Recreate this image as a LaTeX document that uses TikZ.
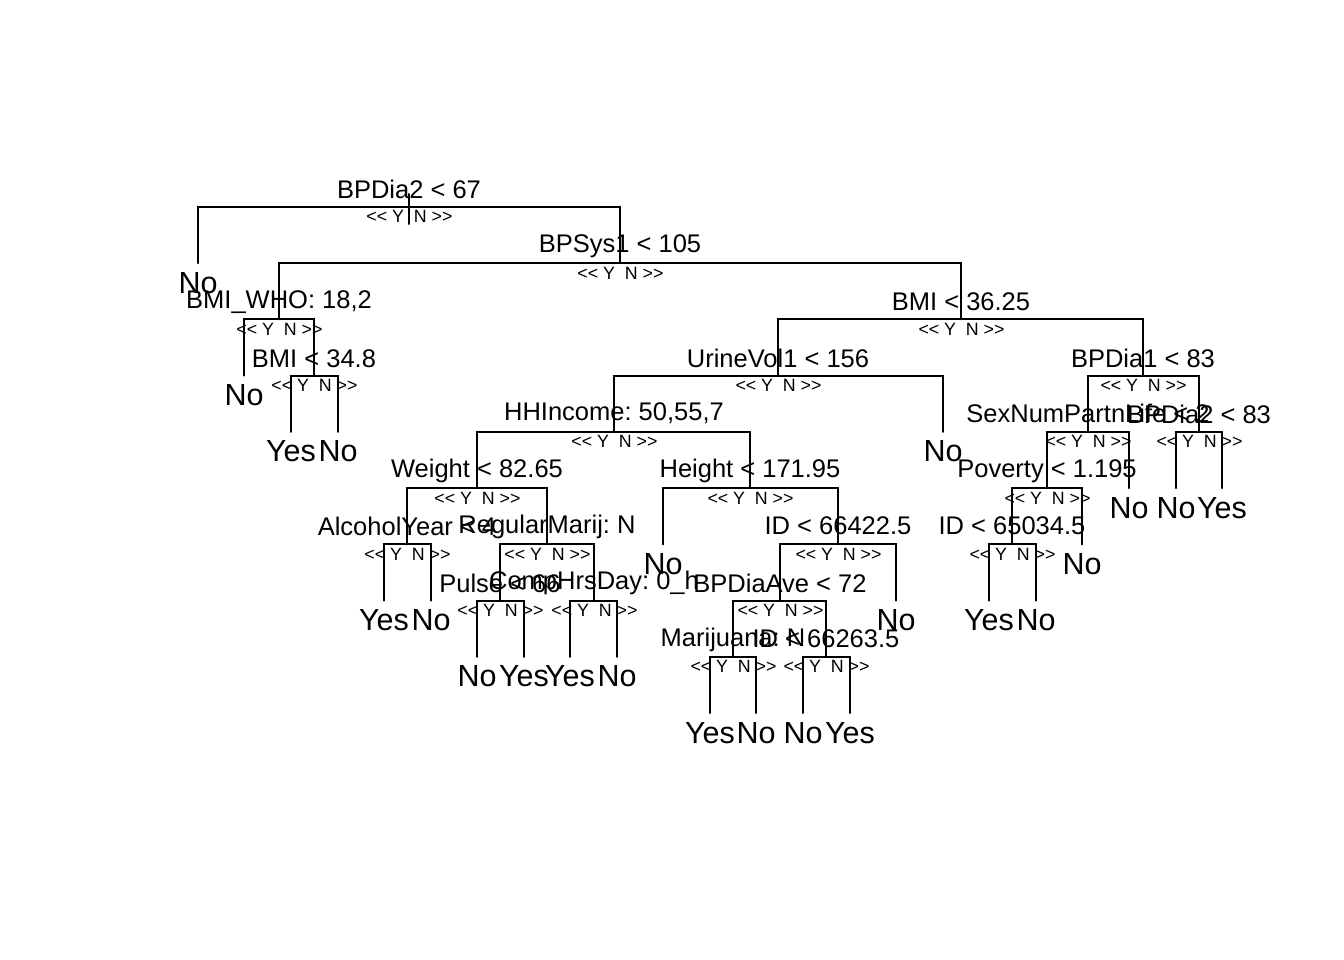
\documentclass[tikz,border=0pt]{standalone}
\usepackage{fontspec}
\setmainfont{Liberation Sans}
\frenchspacing
\newcommand\fsplitf{\fontsize{25.5pt}{30pt}\selectfont\frenchspacing}
\newcommand\fleaff{\fontsize{30.5pt}{36pt}\selectfont}
\newcommand\fsmallf{\fontsize{17.8pt}{21pt}\selectfont}
% name, x, y, baseline offset, text
\newcommand\splitnd[5]{%
  \coordinate (#1) at (#2,#3);
  \node[splitlab] (#1t) at (#2,#3-#4) {#5};
  \node[ylab] (#1y) at (#2-4.7,#3+16) {<\kern0pt< Y};
  \node[nlab] (#1n) at (#2+4.7,#3+16) {N >\kern0pt>};
}
\newcommand\leafnd[4]{%
  \coordinate (#1) at (#2,#3);
  \node[leaflab] (#1t) at (#2,#3+30) {#4};
}
\begin{document}
\begin{tikzpicture}[x=1pt,y=-1pt,
  branch/.style={line width=2pt, line cap=round, line join=miter, draw=black},
  splitlab/.style={font=\fsplitf, anchor=base, inner sep=0pt, text=black},
  leaflab/.style={font=\fleaff, anchor=base, inner sep=0pt, text=black},
  ylab/.style={font=\fsmallf, anchor=base east, inner sep=0pt, text=black},
  nlab/.style={font=\fsmallf, anchor=base west, inner sep=0pt, text=black}]
\fill[white] (0,0) rectangle (1344,960);
\useasboundingbox (0,0) rectangle (1344,960);

\def\La{207}\def\Lb{263.2}\def\Lc{319.4}\def\Ld{375.7}\def\Le{431.9}
\def\Lf{488.1}\def\Lg{544.3}\def\Lh{600.6}\def\Li{656.8}\def\Lj{713}

% split nodes
\splitnd{n1}{409}{\La}{8.5}{BPDia2 < 67}
\splitnd{n3}{620}{\Lb}{11}{BPSys1 < 105}
\splitnd{n6}{279}{\Lc}{11}{BMI\_WHO: 18,2}
\splitnd{n13}{314}{\Ld}{8.5}{BMI < 34.8}
\splitnd{n7}{961}{\Lc}{8.5}{BMI < 36.25}
\splitnd{n14}{778}{\Ld}{8.5}{UrineVol1 < 156}
\splitnd{n28}{614}{\Le}{11}{HHIncome: 50,55,7}
\splitnd{n56}{477}{\Lf}{10.5}{Weight < 82.65}
\splitnd{n112}{407}{\Lg}{8.5}{AlcoholYear < 4}
\splitnd{n113}{547}{\Lg}{11}{RegularMarij: N}
\splitnd{n226}{500}{\Lh}{8}{Pulse < 66}
\splitnd{n227}{594}{\Lh}{11}{CompHrsDay: 0\_h}
\splitnd{n57}{750}{\Lf}{11}{Height < 171.95}
\splitnd{n115}{838}{\Lg}{9.5}{ID < 66422.5}
\splitnd{n230}{780}{\Lh}{8.5}{BPDiaAve < 72}
\splitnd{n460}{733}{\Li}{10.5}{Marijuana: N}
\splitnd{n461}{826}{\Li}{9.5}{ID < 66263.5}
\splitnd{n15}{1143}{\Ld}{8.5}{BPDia1 < 83}
\splitnd{n30}{1088}{\Le}{9}{SexNumPartnLife < 2}
\splitnd{n31}{1199}{\Le}{8.5}{BPDia2 < 83}
\splitnd{n60}{1047}{\Lf}{11}{Poverty < 1.195}
\splitnd{n120}{1012}{\Lg}{9.5}{ID < 65034.5}

% leaves
\leafnd{n2}{198}{\Lb}{No}
\leafnd{n12}{244}{\Ld}{No}
\leafnd{n26}{291}{\Le}{Yes}
\leafnd{n27}{338}{\Le}{No}
\leafnd{n29}{943}{\Le}{No}
\leafnd{n224}{384}{\Lh}{Yes}
\leafnd{n225}{431}{\Lh}{No}
\leafnd{n452}{477}{\Li}{No}
\leafnd{n453}{524}{\Li}{Yes}
\leafnd{n454}{570}{\Li}{Yes}
\leafnd{n455}{617}{\Li}{No}
\leafnd{n114}{663}{\Lg}{No}
\leafnd{n231}{896}{\Lh}{No}
\leafnd{n920}{710}{\Lj}{Yes}
\leafnd{n921}{756}{\Lj}{No}
\leafnd{n922}{803}{\Lj}{No}
\leafnd{n923}{850}{\Lj}{Yes}
\leafnd{n61}{1129}{\Lf}{No}
\leafnd{n121}{1082}{\Lg}{No}
\leafnd{n240}{989}{\Lh}{Yes}
\leafnd{n241}{1036}{\Lh}{No}
\leafnd{n62}{1176}{\Lf}{No}
\leafnd{n63}{1222}{\Lf}{Yes}

% root stub
\coordinate (rs1) at (409,194);
\coordinate (rs2) at (409,224);
\draw[branch] (rs1) -- (rs2);

% branches
\draw[branch] (n2) |- (n1) -| (n3);
\draw[branch] (n6) |- (n3) -| (n7);
\draw[branch] (n12) |- (n6) -| (n13);
\draw[branch] (n26) |- (n13) -| (n27);
\draw[branch] (n14) |- (n7) -| (n15);
\draw[branch] (n28) |- (n14) -| (n29);
\draw[branch] (n56) |- (n28) -| (n57);
\draw[branch] (n112) |- (n56) -| (n113);
\draw[branch] (n224) |- (n112) -| (n225);
\draw[branch] (n226) |- (n113) -| (n227);
\draw[branch] (n452) |- (n226) -| (n453);
\draw[branch] (n454) |- (n227) -| (n455);
\draw[branch] (n114) |- (n57) -| (n115);
\draw[branch] (n230) |- (n115) -| (n231);
\draw[branch] (n460) |- (n230) -| (n461);
\draw[branch] (n920) |- (n460) -| (n921);
\draw[branch] (n922) |- (n461) -| (n923);
\draw[branch] (n30) |- (n15) -| (n31);
\draw[branch] (n60) |- (n30) -| (n61);
\draw[branch] (n120) |- (n60) -| (n121);
\draw[branch] (n240) |- (n120) -| (n241);
\draw[branch] (n62) |- (n31) -| (n63);
\end{tikzpicture}
\end{document}
